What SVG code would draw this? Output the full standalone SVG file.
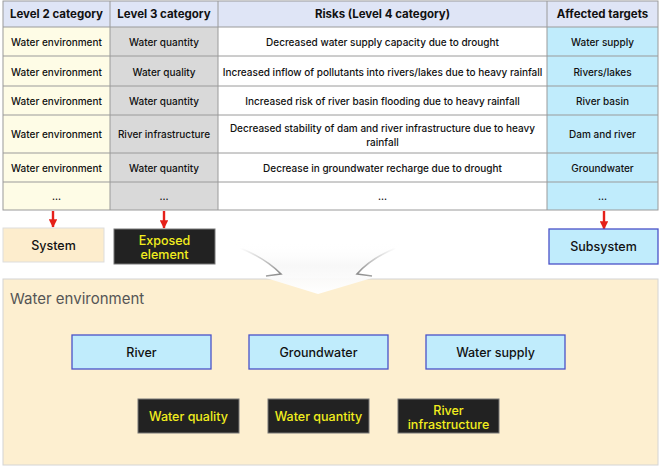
<svg xmlns="http://www.w3.org/2000/svg" width="660" height="466" viewBox="0 0 660 466">
<defs>
<style>
text{font-family:Inter,"Noto Sans","Liberation Sans",sans-serif;text-anchor:middle;dominant-baseline:central}
.h{font-size:11.5px;font-weight:bold;fill:#111}
.c{font-size:10px;font-weight:500;fill:#111}
.g{stroke:#9a9a9a;stroke-width:1}
.blue{fill:#c0ecfc;stroke:#4a52c8;stroke-width:1.3}
.blk{fill:#222;stroke:#777;stroke-width:1}
.yt{font-size:12.5px;font-weight:500;fill:#f2ee1e}
.bt{font-size:12.5px;font-weight:500;fill:#111}
.arr{stroke:#e5201a;stroke-width:2.4;fill:none}
</style>
<marker id="ah" viewBox="0 0 10 10" refX="9" refY="5" markerWidth="3.6" markerHeight="3.6" orient="auto"><path d="M0,0 L10,5 L0,10 z" fill="#e5201a"/></marker>
<linearGradient id="chev" x1="0" y1="0" x2="0" y2="1"><stop offset="0" stop-color="#ffffff" stop-opacity="0"/><stop offset="0.45" stop-color="#f7f7f7" stop-opacity="0.9"/><stop offset="1" stop-color="#ffffff"/></linearGradient>
<linearGradient id="shl" x1="0" y1="0" x2="1" y2="1"><stop offset="0" stop-color="#999" stop-opacity="0"/><stop offset="1" stop-color="#777" stop-opacity="0.9"/></linearGradient>
<linearGradient id="shr" x1="1" y1="0" x2="0" y2="1"><stop offset="0" stop-color="#999" stop-opacity="0"/><stop offset="1" stop-color="#777" stop-opacity="0.9"/></linearGradient>
</defs>
<rect width="660" height="466" fill="#ffffff"/>
<g id="table">
<rect x="3" y="1" width="655" height="26" fill="#dfe5f6"/>
<rect x="3" y="27" width="107" height="183" fill="#fefce6"/>
<rect x="110" y="27" width="108" height="183" fill="#d9d9d9"/>
<rect x="218" y="27" width="329" height="183" fill="#ffffff"/>
<rect x="547" y="27" width="111" height="183" fill="#c0ecfc"/>
<g class="g">
<line x1="3" y1="27" x2="658" y2="27"/><line x1="3" y1="56" x2="658" y2="56"/><line x1="3" y1="86" x2="658" y2="86"/><line x1="3" y1="115" x2="658" y2="115"/><line x1="3" y1="153" x2="658" y2="153"/><line x1="3" y1="182" x2="658" y2="182"/>
<line x1="110" y1="1" x2="110" y2="210"/><line x1="218" y1="1" x2="218" y2="210"/><line x1="547" y1="1" x2="547" y2="210"/>
<rect x="3" y="1" width="655" height="209" fill="none"/>
</g>
<text class="h" x="56.5" y="14">Level 2 category</text>
<text class="h" x="164" y="14">Level 3 category</text>
<text class="h" x="382.5" y="14">Risks (Level 4 category)</text>
<text class="h" x="602.5" y="14">Affected targets</text>
<text class="c" x="56.5" y="42">Water environment</text>
<text class="c" x="164" y="42">Water quantity</text>
<text class="c" x="382.5" y="42">Decreased water supply capacity due to drought</text>
<text class="c" x="602.5" y="42">Water supply</text>
<text class="c" x="56.5" y="71.5">Water environment</text>
<text class="c" x="164" y="71.5">Water quality</text>
<text class="c" x="382.5" y="71.5">Increased inflow of pollutants into rivers/lakes due to heavy rainfall</text>
<text class="c" x="602.5" y="71.5">Rivers/lakes</text>
<text class="c" x="56.5" y="101">Water environment</text>
<text class="c" x="164" y="101">Water quantity</text>
<text class="c" x="382.5" y="101">Increased risk of river basin flooding due to heavy rainfall</text>
<text class="c" x="602.5" y="101">River basin</text>
<text class="c" x="56.5" y="134">Water environment</text>
<text class="c" x="164" y="134">River infrastructure</text>
<text class="c" x="382.5" y="127.5">Decreased stability of dam and river infrastructure due to heavy</text>
<text class="c" x="382.5" y="141.5">rainfall</text>
<text class="c" x="602.5" y="134">Dam and river</text>
<text class="c" x="56.5" y="167.5">Water environment</text>
<text class="c" x="164" y="167.5">Water quantity</text>
<text class="c" x="382.5" y="167.5">Decrease in groundwater recharge due to drought</text>
<text class="c" x="602.5" y="167.5">Groundwater</text>
<text class="c" x="56.5" y="196">...</text>
<text class="c" x="164" y="196">...</text>
<text class="c" x="382.5" y="196">...</text>
<text class="c" x="602.5" y="196">...</text>
</g>
<g id="connectors">
<line class="arr" x1="53" y1="211" x2="53" y2="227" marker-end="url(#ah)"/>
<line class="arr" x1="164" y1="211" x2="164" y2="228" marker-end="url(#ah)"/>
<line class="arr" x1="604" y1="211" x2="604" y2="229" marker-end="url(#ah)"/>
</g>
<g id="system"><rect x="3" y="228" width="101" height="34" fill="#fdedcd" stroke="#dddddd"/><text class="bt" x="53.5" y="245.5">System</text></g>
<g id="exposed"><rect class="blk" x="114" y="229" width="101" height="35"/><text class="yt" x="164.5" y="240">Exposed</text><text class="yt" x="164.5" y="254">element</text></g>
<g id="subsystem"><rect class="blue" x="549" y="229" width="109" height="35"/><text class="bt" x="603.5" y="246.5">Subsystem</text></g>
<g id="panel"><rect x="3" y="279" width="655" height="186" fill="#fdefd0" stroke="#d4d4d4"/><text x="10" y="298" style="text-anchor:start;font-size:15px;fill:#555">Water environment</text></g>
<g id="chevron">
<path d="M223,242 Q260,250 281,274 L266,278 L318,294 L372,278 L357,274 Q378,250 413,242 Z" fill="url(#chev)"/>
<path d="M240,248 Q265,258 281,274 L266,276" fill="none" stroke="url(#shl)" stroke-width="1.6"/>
<path d="M396,248 Q371,258 357,274 L372,276" fill="none" stroke="url(#shr)" stroke-width="1.6"/>
</g>
<g id="river"><rect class="blue" x="72" y="335" width="139" height="34"/><text class="bt" x="141.5" y="352.5">River</text></g>
<g id="groundwater"><rect class="blue" x="249" y="335" width="139" height="34"/><text class="bt" x="318.5" y="352.5">Groundwater</text></g>
<g id="watersupply"><rect class="blue" x="426" y="335" width="139" height="34"/><text class="bt" x="495.5" y="352.5">Water supply</text></g>
<g id="waterquality"><rect class="blk" x="138" y="399" width="101" height="34"/><text class="yt" x="188.5" y="416.5">Water quality</text></g>
<g id="waterquantity"><rect class="blk" x="268" y="399" width="101" height="34"/><text class="yt" x="318.5" y="416.5">Water quantity</text></g>
<g id="riverinfra"><rect class="blk" x="398" y="399" width="101" height="34"/><text class="yt" x="448.5" y="410">River</text><text class="yt" x="448.5" y="424">infrastructure</text></g>
</svg>
